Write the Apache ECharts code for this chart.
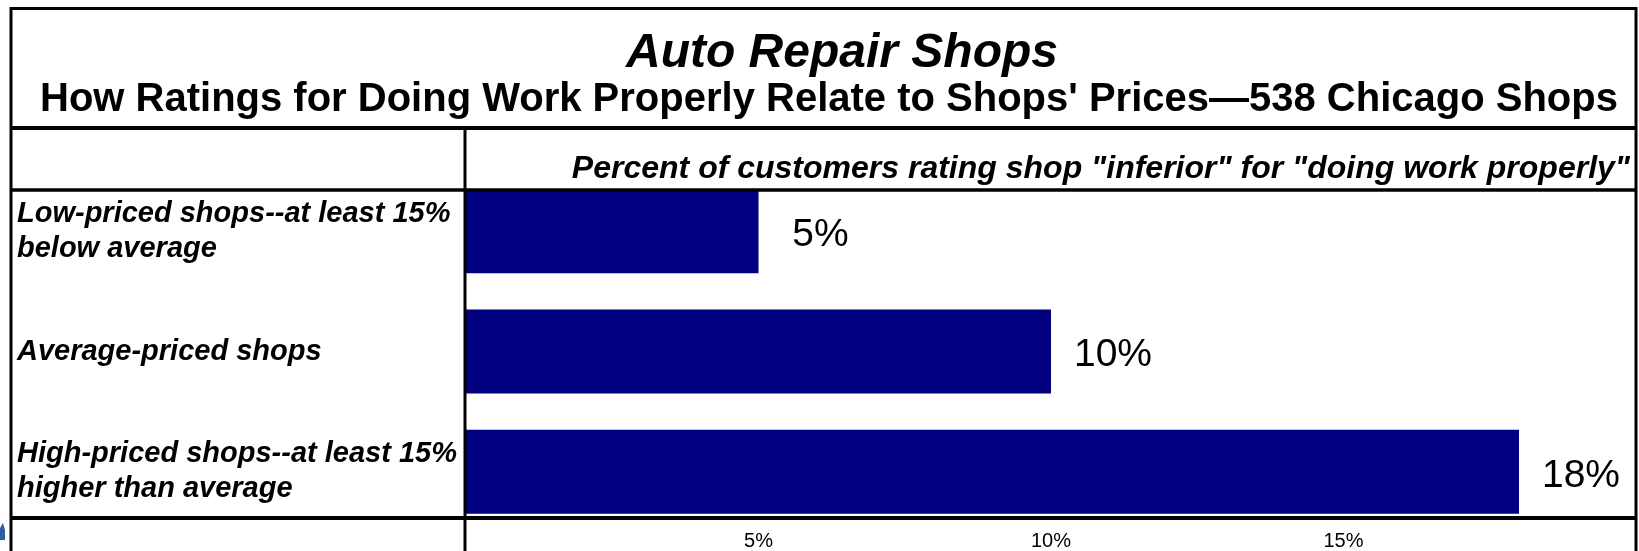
<!DOCTYPE html>
<html>
<head>
<meta charset="utf-8">
<script src="https://cdn.jsdelivr.net/npm/echarts@6/dist/echarts.min.js"></script>
<style>
html,body{margin:0;padding:0;background:#fff;}
#chart{width:1639px;height:551px;}
</style>
</head>
<body>
<div id="chart"></div>
<script>
var titleText = 'Auto Repair Shops';
var subtitleText = "How Ratings for Doing Work Properly Relate to Shops' Prices\u2014538 Chicago Shops";
var axisTitleText = 'Percent of customers rating shop "inferior" for "doing work properly"';
var categories = [
  'Low-priced shops--at least 15%\nbelow average',
  'Average-priced shops',
  'High-priced shops--at least 15%\nhigher than average'
];
var values = [5, 10, 18];
var tickValues = [5, 10, 15];

var FONT = '"Liberation Sans", Arial, Helvetica, sans-serif';
var chart = echarts.init(document.getElementById('chart'), null, {renderer: 'canvas'});

function line(x1, y1, x2, y2, w) {
  return {type: 'line', z: 100, shape: {x1: x1, y1: y1, x2: x2, y2: y2},
          style: {stroke: '#000', lineWidth: w}};
}

var option = {
  backgroundColor: '#fff',
  animation: false,
  grid: {left: 466, top: 171, width: 1180, height: 364, containLabel: false},
  xAxis: {
    type: 'value', min: 0, max: 20, interval: 5,
    axisLine: {show: false}, axisTick: {show: false}, splitLine: {show: false},
    axisLabel: {
      margin: 9, fontSize: 20, color: '#000', fontFamily: FONT, verticalAlign: 'middle',
      formatter: function (v) { return tickValues.indexOf(v) >= 0 ? v + '%' : ''; }
    }
  },
  yAxis: {
    type: 'category', inverse: true, data: categories,
    axisLine: {show: false}, axisTick: {show: false}, splitLine: {show: false},
    axisLabel: {
      align: 'left', margin: 449, fontSize: 29, fontWeight: 'bold', fontStyle: 'italic',
      lineHeight: 35, color: '#000', fontFamily: FONT, padding: [10, 0, 0, 0]
    }
  },
  series: [{
    type: 'bar', data: values, barWidth: 84,
    itemStyle: {color: '#000080'},
    label: {
      show: true, position: 'right', distance: 62, align: 'center', offset: [0, 4],
      fontSize: 39, color: '#000', fontFamily: FONT,
      formatter: function (p) { return p.value + '%'; }
    }
  }],
  graphic: [
    {type: 'polygon', z: 90, shape: {points: [[0, 540], [0, 528], [3, 523], [5, 530], [5, 540]]},
     style: {fill: '#2f5f9e'}},
    {type: 'rect', z: 100, shape: {x: 11, y: 8.5, width: 1625, height: 600},
     style: {fill: 'none', stroke: '#000', lineWidth: 3}},
    line(11, 128, 1636, 128, 4),
    line(11, 190, 1636, 190, 3.5),
    line(465, 128, 465, 560, 3),
    line(11, 518, 1636, 518, 4),
    {type: 'text', z: 100, style: {text: titleText, x: 842, y: 53.5, align: 'center', verticalAlign: 'middle',
      fontSize: 48, fontWeight: 'bold', fontStyle: 'italic', fontFamily: FONT, fill: '#000'}},
    {type: 'text', z: 100, style: {text: subtitleText, x: 829, y: 100, align: 'center', verticalAlign: 'middle',
      fontSize: 40, fontWeight: 'bold', fontFamily: FONT, fill: '#000'}},
    {type: 'text', z: 100, style: {text: axisTitleText, x: 1630, y: 169, align: 'right', verticalAlign: 'middle',
      fontSize: 32, fontWeight: 'bold', fontStyle: 'italic', fontFamily: FONT, fill: '#000'}}
  ]
};
chart.setOption(option);
</script>
</body>
</html>
